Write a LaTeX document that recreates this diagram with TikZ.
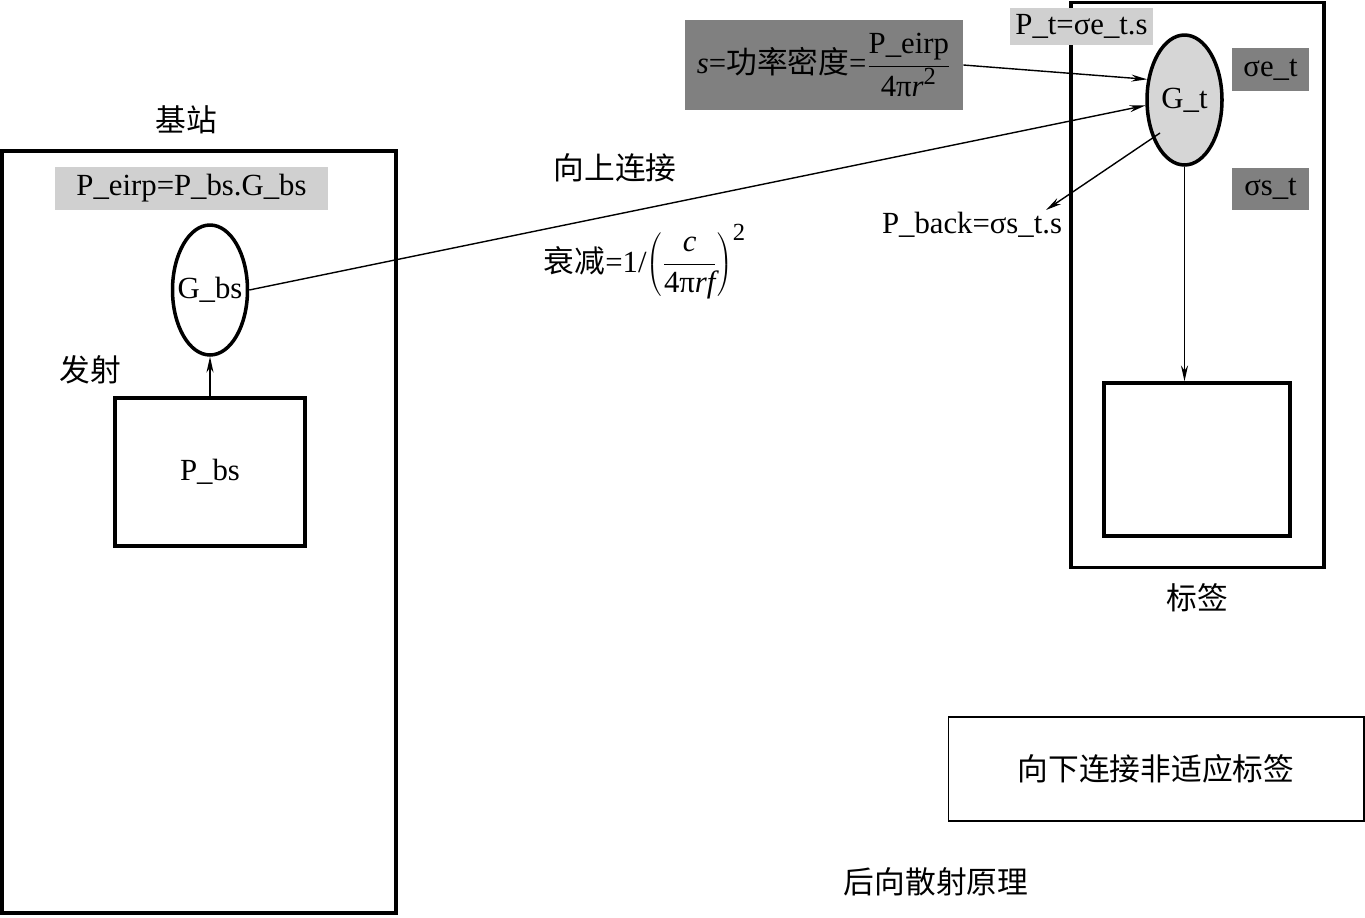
\documentclass[tikz,border=0pt]{standalone}
\usepackage{fontspec}
\setmainfont{Liberation Serif}
\newfontfamily\cjk{Noto Sans CJK SC}
\usetikzlibrary{shapes.geometric,arrows.meta}
\definecolor{lightbox}{HTML}{D0D0D0}
\definecolor{darkbox}{HTML}{808080}
\definecolor{ellfill}{HTML}{D6D6D6}
\newcommand{\supsize}{\fontsize{14}{14}\selectfont}
\begin{document}
\begin{tikzpicture}[x=0.02cm,y=-0.02cm,
  every node/.style={font=\fontsize{17.5}{21}\selectfont, inner sep=0pt},
  thickbox/.style={draw, line width=2pt, rectangle},
  thinbox/.style={draw, line width=0.6pt, rectangle},
  antenna/.style={draw, line width=2pt, ellipse, minimum width=1.5cm, minimum height=2.6cm},
  lightlabel/.style={fill=lightbox, rectangle},
  darklabel/.style={fill=darkbox, rectangle},
  conn/.style={line width=0.8pt, -{Stealth[length=9pt,width=4pt]}},
  lbl/.style={}]
\useasboundingbox (0,0) rectangle (1365,917);
% base station
\node[thickbox, minimum width=7.88cm, minimum height=15.24cm] (bs) at (199,532) {};
\node[lbl] (bslbl) at (186,120) {\cjk 基站};
\node[lightlabel, minimum width=5.46cm, minimum height=0.86cm] (eirp) at (191.5,188.5) {P\_eirp=P\_bs.G\_bs};
\node[antenna, label={center:G\_bs}] (gbs) at (210,290) {};
\node[thickbox, minimum width=3.8cm, minimum height=2.96cm] (pbs) at (210,472) {P\_bs};
\node[lbl] (fashe) at (90,370) {\cjk 发射};
% tag
\node[thickbox, minimum width=5.06cm, minimum height=11.3cm] (tag) at (1197.5,285) {};
\node[thickbox, minimum width=3.72cm, minimum height=3.06cm] (inner) at (1197,459.5) {};
\node[lbl] (taglbl) at (1197,598) {\cjk 标签};
\node[lightlabel, minimum width=2.86cm, minimum height=0.74cm] (pt) at (1081.5,26.5) {P\_t=σe\_t.s};
\node[antenna, fill=ellfill, label={center:G\_t}] (gt) at (1184.5,100) {};
\node[darklabel, minimum width=1.54cm, minimum height=0.86cm] (se) at (1270.5,69.5) {σe\_t};
\node[darklabel, minimum width=1.54cm, minimum height=0.84cm] (ss) at (1270.5,189) {σs\_t};
\node[lbl] (pback) at (972,225) {P\_back=σs\_t.s};
% power density
\node[darklabel, minimum width=5.56cm, minimum height=1.8cm] (sbox) at (824,65)
  {\textit{s}={\cjk 功率密度}=$\displaystyle\frac{\mbox{P\_eirp}}{\mbox{4π\itshape r}^{\mbox{\supsize 2}}}$};
% uplink labels
\node[lbl] (up) at (615,168) {\cjk 向上连接};
\node[lbl] (att) at (645,262) {{\cjk 衰减}=1/$\displaystyle\left(\frac{\mbox{\itshape c}}{\mbox{4π\itshape rf}}\right)^{\mbox{\supsize 2}}$};
% downlink box and title
\node[thinbox, minimum width=8.32cm, minimum height=2.08cm] (down) at (1156,769) {\cjk 向下连接非适应标签};
\node[lbl] (title) at (936,882) {\cjk 后向散射原理};
% connectors
\coordinate (bsrc) at (1160,133);
\coordinate (btip) at (1046,210);
\draw[conn] (pbs.north) -- (gbs.south);
\draw[conn] (gbs.east) -- (gt.188);
\draw[conn] (sbox.east) -- (gt.151);
\draw[conn] (bsrc) -- (btip);
\draw[conn] (gt.south) -- (gt.south |- inner.north);
\end{tikzpicture}
\end{document}
